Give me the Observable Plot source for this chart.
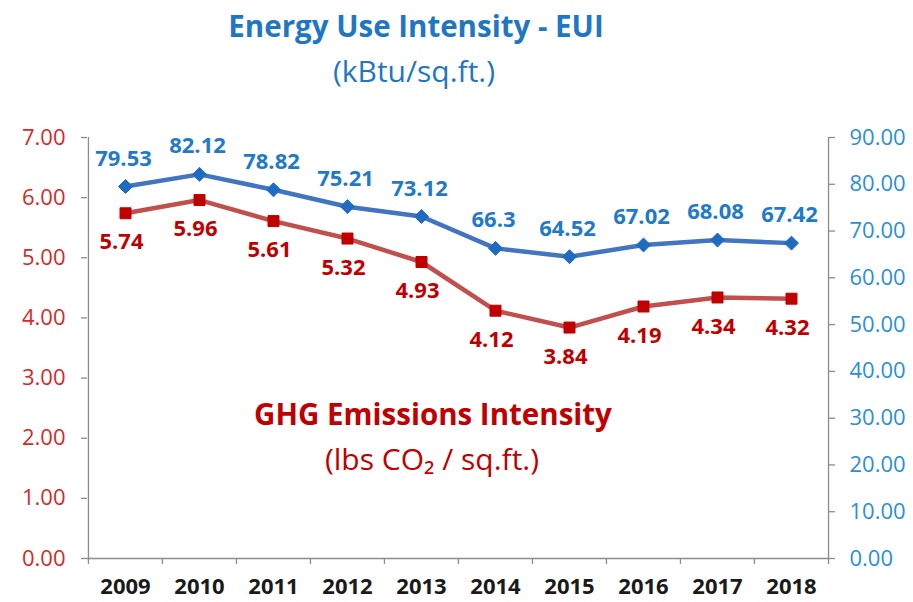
<!DOCTYPE html>
<html><head><meta charset="utf-8">
<script src="https://cdn.jsdelivr.net/npm/d3@7"></script>
<script src="https://cdn.jsdelivr.net/npm/@observablehq/plot@0.6"></script>
<style>body{margin:0;background:#fff}</style>
</head><body><div id="chart"></div>
<script>
const years = ["2009","2010","2011","2012","2013","2014","2015","2016","2017","2018"];
const euiValues = [79.53, 82.12, 78.82, 75.21, 73.12, 66.3, 64.52, 67.02, 68.08, 67.42];
const ghgValues = [5.74, 5.96, 5.61, 5.32, 4.93, 4.12, 3.84, 4.19, 4.34, 4.32];
const leftTicks = [0, 1, 2, 3, 4, 5, 6, 7];
const rightTicks = [0, 10, 20, 30, 40, 50, 60, 70, 80, 90];
const euiTitle = "Energy Use Intensity - EUI";
const euiUnit = "(kBtu/sq.ft.)";
const ghgTitle = "GHG Emissions Intensity";
const ghgUnit = "(lbs CO\u2082 / sq.ft.)";

const LEFT_MAX = 7, RIGHT_MAX = 90;
const toLeft = v => v * LEFT_MAX / RIGHT_MAX;
const rows = years.map((y, i) => ({year: y, eui: euiValues[i], ghg: ghgValues[i], euiY: toLeft(euiValues[i])}));

const W = 913, H = 602, mL = 87, mR = 85, mT = 137, mB = 44;
const bw = (W - mL - mR) / years.length;

const BLUE_TXT = "#1f7ac9", RED_TXT = "#c00000";
const AX_RED = "#d22b2b", AX_BLUE = "#2b8fd6";
const GRAY = "#8c8c8c";
const FONT = "'Open Sans'";

const chart = Plot.plot({
  width: W, height: H,
  marginLeft: mL, marginRight: mR, marginTop: mT, marginBottom: mB,
  style: {fontFamily: FONT, fontSize: "18px", background: "#fff"},
  x: {type: "band", domain: years, padding: 0, axis: null},
  y: {domain: [0, LEFT_MAX], axis: null},
  marks: [
    // axis lines and ticks
    Plot.ruleY([0], {stroke: GRAY, strokeWidth: 1.3}),
    Plot.ruleX(years.slice(0, 1), {x: d => d, y1: 0, y2: LEFT_MAX, dx: -bw / 2, stroke: GRAY, strokeWidth: 1.3}),
    Plot.ruleX(years.slice(-1), {x: d => d, y1: 0, y2: LEFT_MAX, dx: bw / 2, stroke: GRAY, strokeWidth: 1.3}),
    Plot.ruleX(years, {x: d => d, y1: 0, y2: -0.1, dx: -bw / 2, stroke: GRAY, strokeWidth: 1.3}),
    Plot.ruleX(years.slice(-1), {x: d => d, y1: 0, y2: -0.1, dx: bw / 2, stroke: GRAY, strokeWidth: 1.3}),
    Plot.axisX({label: null, tickSize: 0, tickPadding: 20, fontWeight: "bold", fontSize: 22, fill: "#1a1a1a"}),
    Plot.axisY(leftTicks, {anchor: "left", label: null, tickSize: 6, tickPadding: 16, stroke: GRAY, strokeWidth: 1.3,
      fill: AX_RED, fontSize: 22, tickFormat: d => d.toFixed(2)}),
    Plot.axisY(rightTicks.map(toLeft), {anchor: "right", label: null, tickSize: 6, tickPadding: 15, stroke: GRAY, strokeWidth: 1.3,
      fill: AX_BLUE, fontSize: 22, tickFormat: d => (d * RIGHT_MAX / LEFT_MAX).toFixed(2)}),
    // EUI series
    Plot.line(rows, {x: "year", y: "euiY", stroke: "#4274c0", strokeWidth: 4.5}),
    Plot.dot(rows, {x: "year", y: "euiY", symbol: "diamond2", r: 6.3, fill: "#1f6bc2", stroke: "#1f6bc2", strokeWidth: 1}),
    Plot.text(rows, {x: "year", y: "euiY", text: d => String(d.eui), dy: -28, dx: -2, fill: BLUE_TXT, fontWeight: "bold", fontSize: 22}),
    // GHG series
    Plot.line(rows, {x: "year", y: "ghg", stroke: "#c0504d", strokeWidth: 4.5}),
    Plot.dot(rows, {x: "year", y: "ghg", symbol: "square", r: 6.2, fill: "#c00000", stroke: "#c00000", strokeWidth: 1}),
    Plot.text(rows, {x: "year", y: "ghg", text: d => d.ghg.toFixed(2), dy: 29, dx: -4, fill: RED_TXT, fontWeight: "bold", fontSize: 22}),
    // titles
    Plot.text([euiTitle], {frameAnchor: "top", lineAnchor: "middle", dx: -42, dy: -110, fill: "#1f77c4", fontWeight: "bold", fontSize: 29.5}),
    Plot.text([euiUnit], {frameAnchor: "top", lineAnchor: "middle", dx: -44, dy: -65, fill: "#1f77c4", fontSize: 30}),
    Plot.text([ghgTitle], {frameAnchor: "top", lineAnchor: "middle", dx: -25, dy: 278, fill: "#c00000", fontWeight: "bold", fontSize: 29.5}),
    Plot.text([ghgUnit], {frameAnchor: "top", lineAnchor: "middle", dx: -26, dy: 323, fill: "#c00000", fontSize: 30})
  ]
});
document.getElementById("chart").appendChild(chart);
</script>
</body></html>
